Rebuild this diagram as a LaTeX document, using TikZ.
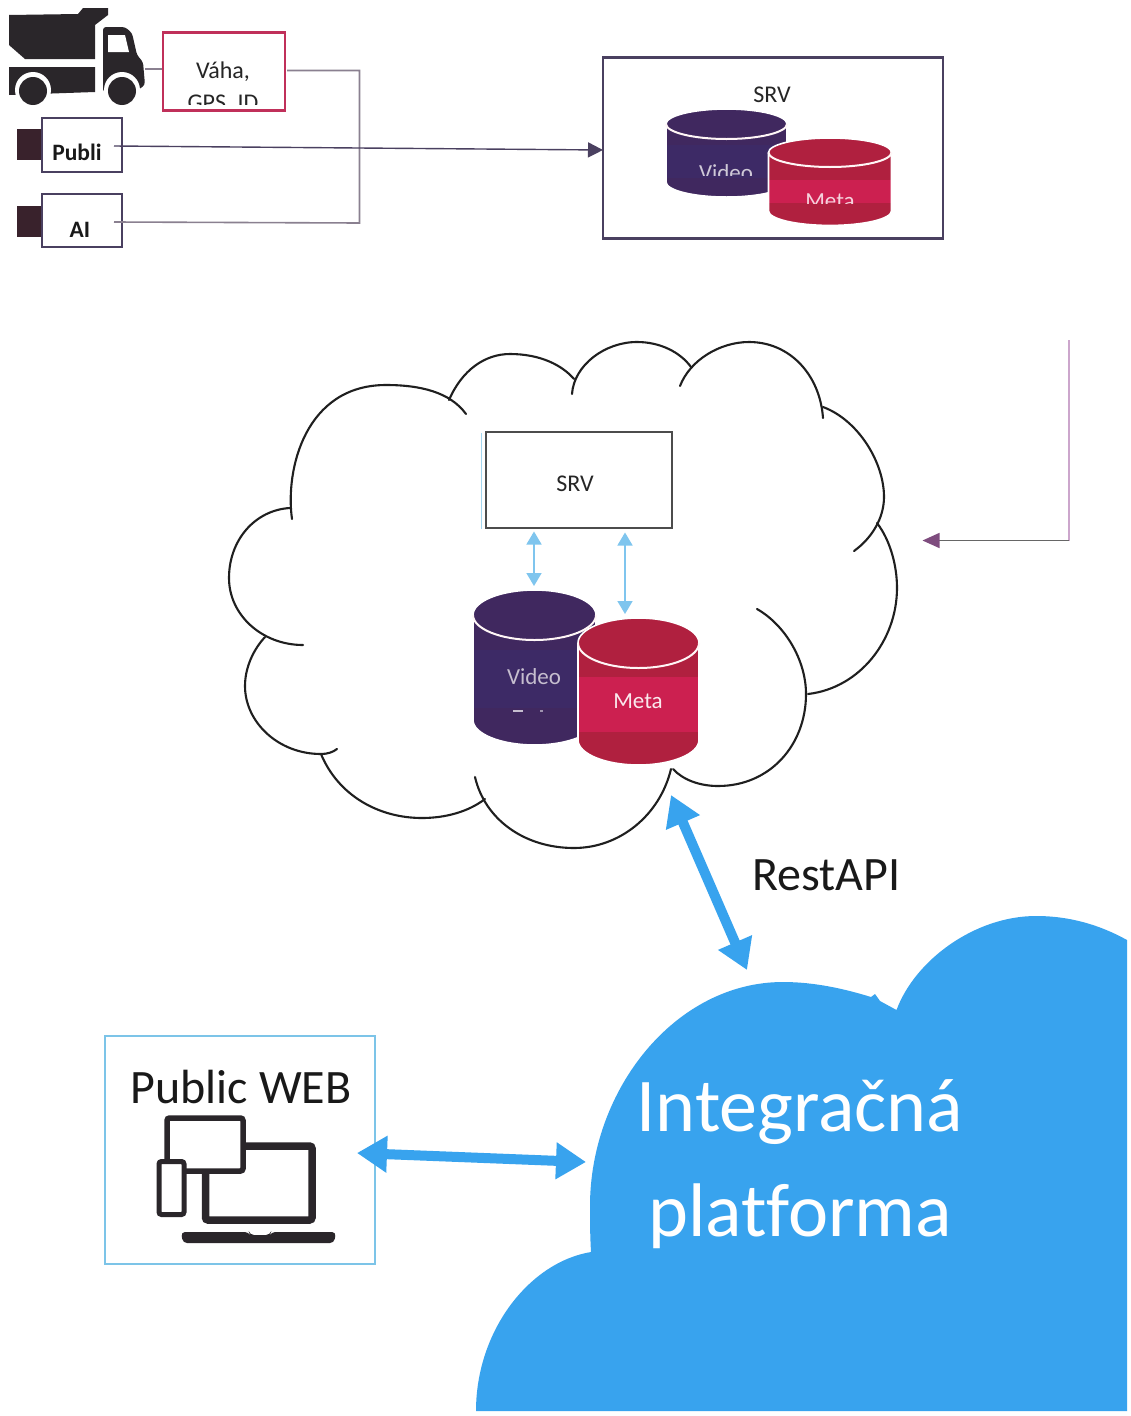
\documentclass[tikz,border=0pt]{standalone}
\usepackage{fontspec}
\setmainfont{Carlito}[Ligatures=NoCommon]
\usetikzlibrary{arrows.meta}
\definecolor{skyfill}{HTML}{38A3EE}
\definecolor{skyline}{HTML}{7CC4E8}
\definecolor{skyarrow}{HTML}{7FC5EE}
\definecolor{inkdark}{HTML}{2A262A}
\definecolor{boxdark}{HTML}{4A4060}
\definecolor{crimsonline}{HTML}{C0305A}
\definecolor{wiregray}{HTML}{8A8090}
\definecolor{vidA}{HTML}{40285F}
\definecolor{vidB}{HTML}{3D2A66}
\definecolor{metaA}{HTML}{B0203F}
\definecolor{metaB}{HTML}{CC2050}
\tikzset{
  cloudline/.style={draw=black!88,line width=2.1pt,line cap=round},
  srcbox/.style={draw=boxdark,line width=2pt,fill=white,inner sep=0pt},
  wire/.style={draw=wiregray,line width=1.6pt},
  darkwire/.style={draw=boxdark,line width=1.4pt},
  device/.style={draw=inkdark,fill=white,rounded corners=2.5pt},
  lbl/.style={inner sep=0pt,anchor=base},
  small/.style={lbl,font=\fontsize{24}{28}\selectfont,text=black!85},
  boldsmall/.style={lbl,font=\fontsize{23.5}{28}\selectfont\bfseries,text=black!90},
  big/.style={lbl,font=\fontsize{48}{54}\selectfont,text=black!90},
  huge/.style={lbl,font=\fontsize{76}{84}\selectfont,text=white},
  cyltext/.style={lbl,font=\fontsize{23}{27}\selectfont,text=white},
  thickboth/.style={draw=skyfill,line width=10pt,{Triangle[length=30pt,width=35pt]}-{Triangle[length=30pt,width=35pt]}},
  thinboth/.style={draw=skyarrow,line width=1.6pt,{Triangle[length=13pt,width=15pt]}-{Triangle[length=13pt,width=15pt]}}
}
% #1 cx, #2 top-centre y, #3 rx, #4 ry, #5 body height (in ry), #6 dark, #7 band, #8 band top, #9 band bottom
\newcommand{\barrel}[9]{%
  \begin{scope}[shift={(#1,#2)},x=#3pt,y=-#4pt]
    \fill[#6] (-1,0) -- (-1,#5) .. controls (-1,#5+.55) and (-.55,#5+1) .. (0,#5+1)
      .. controls (.55,#5+1) and (1,#5+.55) .. (1,#5) -- (1,0)
      .. controls (1,-.55) and (.55,-1) .. (0,-1) .. controls (-.55,-1) and (-1,-.55) .. (-1,0) -- cycle;
    \fill[#7] (-1,#8) rectangle (1,#9);
    \draw[white,line width=1.6pt] (-1,0) -- (-1,#5) .. controls (-1,#5+.55) and (-.55,#5+1) .. (0,#5+1)
      .. controls (.55,#5+1) and (1,#5+.55) .. (1,#5) -- (1,0)
      .. controls (1,-.55) and (.55,-1) .. (0,-1) .. controls (-.55,-1) and (-1,-.55) .. (-1,0) -- cycle;
    \draw[white!85!pink,line width=2pt] (-1,0) .. controls (-1,.55) and (-.55,1) .. (0,1) .. controls (.55,1) and (1,.55) .. (1,0);
  \end{scope}}
\begin{document}
\begin{tikzpicture}[x=1pt,y=-1pt]
\useasboundingbox (0,0) rectangle (1131,1416);
\fill[white] (0,0) rectangle (1131,1416);

% ---------- truck
\fill[inkdark] (9,15) -- (78,14) -- (83,8) -- (108,8) -- (108,15) -- (95,25) -- (95,59) -- (25,59) -- (9,45) -- cycle;
\fill[inkdark] (9,67) -- (95,67) -- (95,92) -- (9,95) -- cycle;
\fill[inkdark,rounded corners=3pt] (103,27) -- (125,27) -- (132,33) -- (137,55) -- (143,62) -- (145,85) -- (135,92) -- (103,92) -- cycle;
\fill[white] (108,35) -- (125,35) -- (129,52) -- (108,52) -- cycle;
\fill[white] (33,90) circle[radius=18];
\fill[white] (122,90) circle[radius=18];
\fill[inkdark] (33,91) circle[radius=14];
\fill[inkdark] (122,91) circle[radius=14];
\coordinate (truckfront) at (145,69);

% ---------- sources
\node[draw=crimsonline,line width=2.4pt,fill=white,inner sep=0pt,minimum width=122pt,minimum height=78pt] (vaha) at (224,71.5) {};
\node[small] (vahatext) at (223,78) {Váha,};
\begin{scope}
  \clip (165,85) rectangle (283,104);
  \node[small] (gpstext) at (223,110) {GPS, ID};
\end{scope}
\fill[inkdark!90!purple] (17,129) rectangle (43,160);
\fill[inkdark!90!purple] (17,206) rectangle (43,237);
\node[srcbox,minimum width=80pt,minimum height=54pt] (publi) at (82,145) {};
\node[srcbox,minimum width=80pt,minimum height=53pt] (ai) at (82,220.5) {};
\node[boldsmall] (publitext) at (77,160.5) {Publi};
\node[boldsmall] (aitext) at (80,237.5) {AI};

% ---------- top SRV
\node[draw=boxdark,line width=2.2pt,fill=white,inner sep=0pt,minimum width=340pt,minimum height=181pt] (srvtop) at (773,148) {};
\node[small] (srvtoptext) at (772,102) {SRV};
\barrel{726.5}{124}{60.5}{15}{3.87}{vidA}{vidB}{1.4}{3.6}
\begin{scope}
  \clip (660,150) rectangle (768,175);
  \node[cyltext,text=white!75!vidA] (videotop) at (726,180) {Video};
\end{scope}
\barrel{830}{152.5}{61.5}{14.5}{4.03}{metaA}{metaB}{1.9}{3.5}
\begin{scope}
  \clip (780,180) rectangle (885,203);
  \node[cyltext,text=white!80!metaB] (metatop) at (830,208) {Meta};
\end{scope}

% ---------- wires top
\coordinate (publiout) at (114,146);
\coordinate (aiout) at (114,222);
\coordinate (vahaout) at (287,70.5);
\coordinate (busT) at (359.5,70.5);
\coordinate (busB) at (359.5,223);
\coordinate (srvin) at (603,150);
\draw[wire] (truckfront) -- (truckfront -| vaha.west);
\draw[wire] (vahaout) -- (busT) -- (busB) -- (aiout);
\draw[darkwire,-{Triangle[length=15pt,width=15pt]}] (publiout) -- (srvin);

% ---------- outline cloud
\draw[cloudline] (292,519) .. controls (285,470) and (305,385) .. (386,385) .. controls (420,385) and (450,392) .. (466,414);
\draw[cloudline] (449,400) .. controls (462,370) and (485,354) .. (510,354) .. controls (540,354) and (562,365) .. (574,379);
\draw[cloudline] (572,394) .. controls (574,365) and (605,342) .. (637,342) .. controls (660,342) and (680,352) .. (691,367);
\draw[cloudline] (680,386) .. controls (690,360) and (720,342) .. (749,342) .. controls (790,342) and (820,375) .. (823,418);
\draw[cloudline] (823,407) .. controls (858,420) and (884,462) .. (884,497) .. controls (884,518) and (872,538) .. (854,551);
\draw[cloudline] (877,523) .. controls (890,540) and (897,565) .. (897,588) .. controls (897,640) and (860,688) .. (808,694);
\draw[cloudline] (757,609) .. controls (785,625) and (806,660) .. (806,694) .. controls (806,745) and (770,786) .. (718,786) .. controls (700,786) and (683,780) .. (673,769);
\draw[cloudline] (671,769) .. controls (660,815) and (620,848) .. (574,848) .. controls (525,848) and (485,820) .. (475,777);
\draw[cloudline] (485,799) .. controls (468,812) and (445,818) .. (422,818) .. controls (378,818) and (338,795) .. (321,754);
\draw[cloudline] (337,749) .. controls (333,752) and (328,754) .. (321,754) .. controls (278,754) and (245,722) .. (245,686) .. controls (245,668) and (253,650) .. (265,637);
\draw[cloudline] (303,645) .. controls (262,645) and (229,615) .. (229,578) .. controls (229,540) and (255,510) .. (290,508);

% ---------- cloud SRV + barrels
\draw[skyline!70,line width=1pt] (481,433) -- (481,529);
\node[draw=black!70,line width=1.7pt,fill=white,inner sep=0pt,minimum width=186pt,minimum height=96pt] (srvcloud) at (579,480) {};
\node[small] (srvcloudtext) at (575,491) {SRV};
\barrel{534.5}{615}{61.5}{25}{4.2}{vidA}{vidB}{1.4}{3.7}
\node[cyltext,text=white!70!vidA] (videocloud) at (534,684) {Video};
\fill[white!70!vidA] (513,709.5) rectangle (523,711.5);
\fill[white!50!vidA] (540,709.5) rectangle (543,711.5);
\barrel{638.5}{643}{60.5}{25}{3.88}{metaA}{metaB}{1.36}{3.56}
\node[cyltext,text=white!90!metaB] (metacloud) at (638,708) {Meta};
\coordinate (vidtop) at (534,586);
\coordinate (metatopc) at (625,614);
\coordinate (srvA) at (534,531.5);
\coordinate (srvB) at (625,532.5);
\draw[thinboth] (srvA) -- (vidtop);
\draw[thinboth] (srvB) -- (metatopc);

% ---------- incoming purple connector
\coordinate (feedtop) at (1068.5,340);
\coordinate (feedcorner) at (1068.5,540.5);
\coordinate (feedtip) at (922.5,540.5);
\draw[draw=black!15!violet!35,line width=2pt] (feedtop) -- (feedcorner);
\draw[draw=black!60,line width=1.5pt,-{Triangle[length=17pt,width=15pt,color=black!45!violet!70]}] (feedcorner) -- (feedtip);

% ---------- blue cloud
\fill[skyfill] (476,1411) .. controls (476,1330) and (530,1262) .. (591,1252)
  .. controls (590,1235) and (590,1220) .. (590,1206)
  .. controls (590,1090) and (675,982) .. (783,982)
  .. controls (815,982) and (845,989) .. (871,997)
  -- (875,994) -- (880,1001) -- (896.5,1010)
  .. controls (915,960) and (975,916) .. (1036,916)
  .. controls (1070,916) and (1100,925) .. (1127,940)
  -- (1127,1411) -- cycle;
\node[huge] (integracna) at (800,1131) {Integračná};
\node[huge] (platforma) at (800,1236) {platforma};
\coordinate (cloudtop) at (747,970);
\coordinate (cloudbottom) at (671,795);
\draw[thickboth] (cloudbottom) -- (cloudtop);
\node[big] (restapi) at (826.5,890) {RestAPI};

% ---------- public web
\node[draw=skyline,line width=2.4pt,fill=white,inner sep=0pt,minimum width=270pt,minimum height=228pt] (web) at (240,1150) {};
\node[big] (webtext) at (241,1103) {Public WEB};
\draw[device,line width=7.5pt] (205.5,1146) rectangle (312,1220);
\draw[device,line width=5.5pt] (167,1118) rectangle (243,1171);
\draw[device,line width=5pt] (159,1161.5) rectangle (184,1214.5);
\fill[inkdark,rounded corners=4pt] (181,1232) -- (249,1232) -- (250,1235) -- (270,1235) -- (271,1232) -- (336,1232) -- (334,1243) -- (183,1243) -- cycle;
\coordinate (webout) at (357,1153);
\coordinate (cloudin) at (586,1162);
\draw[thickboth] (webout) -- (cloudin);
\end{tikzpicture}
\end{document}
